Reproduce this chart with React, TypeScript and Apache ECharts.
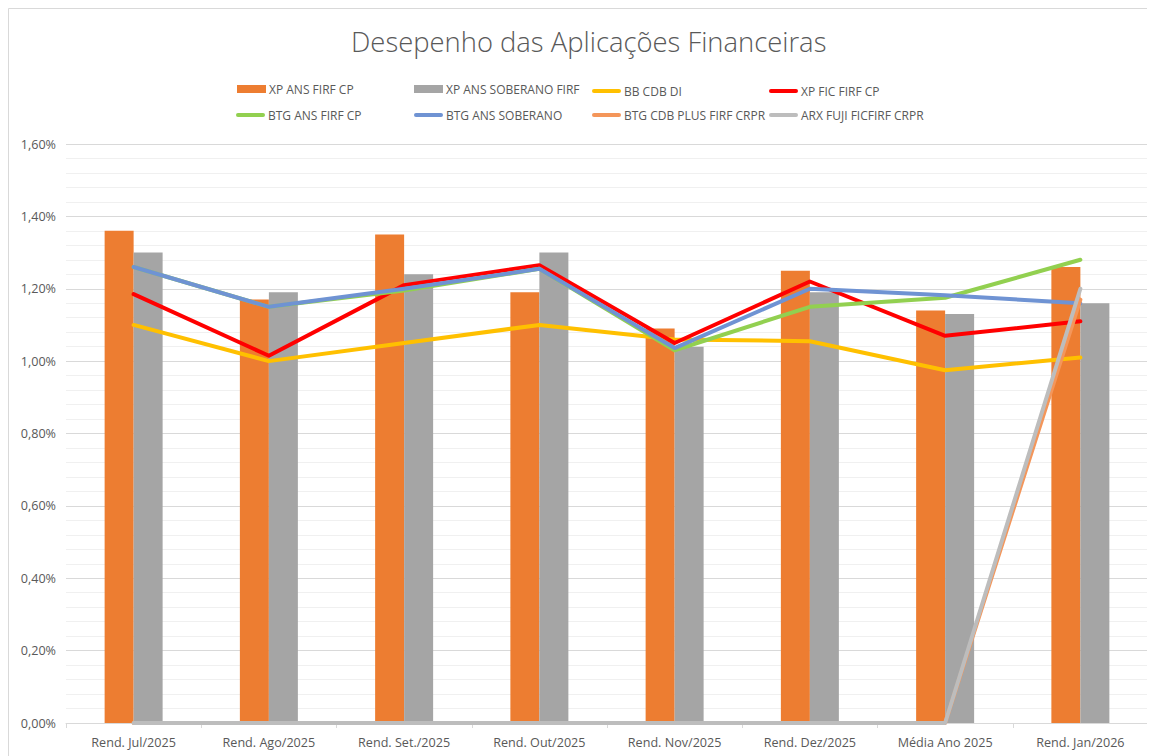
import React, { useEffect, useRef } from "react";
import * as echarts from "echarts";

const categories = [
  "Rend. Jul/2025",
  "Rend. Ago/2025",
  "Rend. Set./2025",
  "Rend. Out/2025",
  "Rend. Nov/2025",
  "Rend. Dez/2025",
  "Média Ano 2025",
  "Rend. Jan/2026",
];
const xpAnsFirfCp = [1.36, 1.17, 1.35, 1.19, 1.09, 1.25, 1.14, 1.26];
const xpAnsSoberanoFirf = [1.3, 1.19, 1.24, 1.3, 1.04, 1.19, 1.13, 1.16];
const bbCdbDi = [1.1, 1.0, 1.05, 1.1, 1.06, 1.055, 0.975, 1.01];
const xpFicFirfCp = [1.185, 1.015, 1.21, 1.265, 1.05, 1.22, 1.07, 1.11];
const btgAnsFirfCp = [1.26, 1.15, 1.195, 1.255, 1.03, 1.15, 1.175, 1.28];
const btgAnsSoberano = [1.26, 1.15, 1.2, 1.255, 1.036, 1.2, 1.182, 1.16];
const btgCdbPlus = [0, 0, 0, 0, 0, 0, 0, 1.17];
const arxFuji = [0, 0, 0, 0, 0, 0, 0, 1.2];
const yTicks = { min: 0, max: 1.6, interval: 0.2 };

const FONT = "'Open Sans', sans-serif";
const TXT = "#595959";
const capsule = "path://M2,0 L28,0 A2,2 0 0 1 28,4 L2,4 A2,2 0 0 1 2,0 Z";

export default function App() {
  const ref = useRef<HTMLDivElement>(null);
  useEffect(() => {
    if (!ref.current) return;
    const chart = echarts.init(ref.current, null, { renderer: "svg" });
    const lineSeries = (name: string, data: number[], color: string, z: number) => ({
      name,
      type: "line",
      data,
      symbol: "none",
      z,
      lineStyle: { color, width: 4, cap: "round", join: "round" },
      itemStyle: { color },
    });
    const legendItem = (name: string, left: number, top: number, isBar: boolean) => ({
      data: [name],
      left,
      top,
      itemWidth: 29,
      itemHeight: isBar ? 8 : 4,
      icon: isBar ? "rect" : capsule,
      selectedMode: false,
      padding: 0,
      textStyle: { color: TXT, fontFamily: FONT, fontSize: 12, padding: [0, 0, 0, -2] },
    });
    const r1 = 73, r2 = 97;
    chart.setOption({
      animation: false,
      backgroundColor: "#ffffff",
      title: {
        text: "Desepenho das Aplicações Financeiras",
        left: 343,
        top: 20,
        padding: 0,
        textStyle: { color: TXT, fontFamily: FONT, fontSize: 27.4, fontWeight: 300 },
      },
      legend: [
        legendItem("XP ANS FIRF CP", 229, r1 + 2, true),
        legendItem("XP ANS SOBERANO FIRF", 406, r1 + 2, true),
        legendItem("BB CDB DI", 584, r1 + 4, false),
        legendItem("XP FIC FIRF CP", 761, r1 + 4, false),
        legendItem("BTG ANS FIRF CP", 228, r2 + 4, false),
        legendItem("BTG ANS SOBERANO", 406, r2 + 4, false),
        legendItem("BTG CDB PLUS FIRF CRPR", 584, r2 + 4, false),
        legendItem("ARX FUJI FICFIRF CRPR", 761, r2 + 4, false),
      ],
      grid: { left: 58, right: 7, top: 136, bottom: 33, containLabel: false },
      xAxis: {
        type: "category",
        data: categories,
        boundaryGap: true,
        axisLine: { lineStyle: { color: "#d9d9d9", width: 1 } },
        axisTick: { show: true, length: 5, lineStyle: { color: "#d9d9d9" } },
        axisLabel: { color: TXT, fontFamily: FONT, fontSize: 12.6, margin: 13 },
        z: 1,
      },
      yAxis: {
        type: "value",
        min: yTicks.min,
        max: yTicks.max,
        interval: yTicks.interval,
        axisLine: { show: false },
        axisTick: { show: false },
        axisLabel: {
          color: TXT,
          fontFamily: FONT,
          fontSize: 12.6,
          margin: 10,
          formatter: (v: number) => v.toFixed(2).replace(".", ",") + "%",
        },
        splitLine: { lineStyle: { color: "#d9d9d9", width: 1 } },
        minorTick: { show: false, splitNumber: 5 },
        minorSplitLine: { show: true, lineStyle: { color: "#f0f0f0", width: 1 } },
      },
      graphic: [
        {
          type: "rect",
          shape: { x: 0.5, y: 0.5, width: 1145, height: 760 },
          style: { fill: "none", stroke: "#d9d9d9", lineWidth: 1 },
          silent: true,
        },
      ],
      series: [
        {
          name: "XP ANS FIRF CP",
          type: "bar",
          data: xpAnsFirfCp,
          barWidth: 29,
          barGap: "0%",
          itemStyle: { color: "#ED7D31" },
          z: 2,
        },
        {
          name: "XP ANS SOBERANO FIRF",
          type: "bar",
          data: xpAnsSoberanoFirf,
          barWidth: 29,
          barGap: "0%",
          itemStyle: { color: "#A5A5A5" },
          z: 2,
        },
        lineSeries("BB CDB DI", bbCdbDi, "#FFC000", 3),
        lineSeries("XP FIC FIRF CP", xpFicFirfCp, "#FF0000", 4),
        lineSeries("BTG ANS FIRF CP", btgAnsFirfCp, "#92D050", 5),
        lineSeries("BTG ANS SOBERANO", btgAnsSoberano, "#6F93D3", 6),
        lineSeries("BTG CDB PLUS FIRF CRPR", btgCdbPlus, "#F4965A", 7),
        lineSeries("ARX FUJI FICFIRF CRPR", arxFuji, "#BDBDBD", 8),
      ],
    });
    return () => chart.dispose();
  }, []);
  return <div ref={ref} style={{ width: 1147, height: 748 }} />;
}
